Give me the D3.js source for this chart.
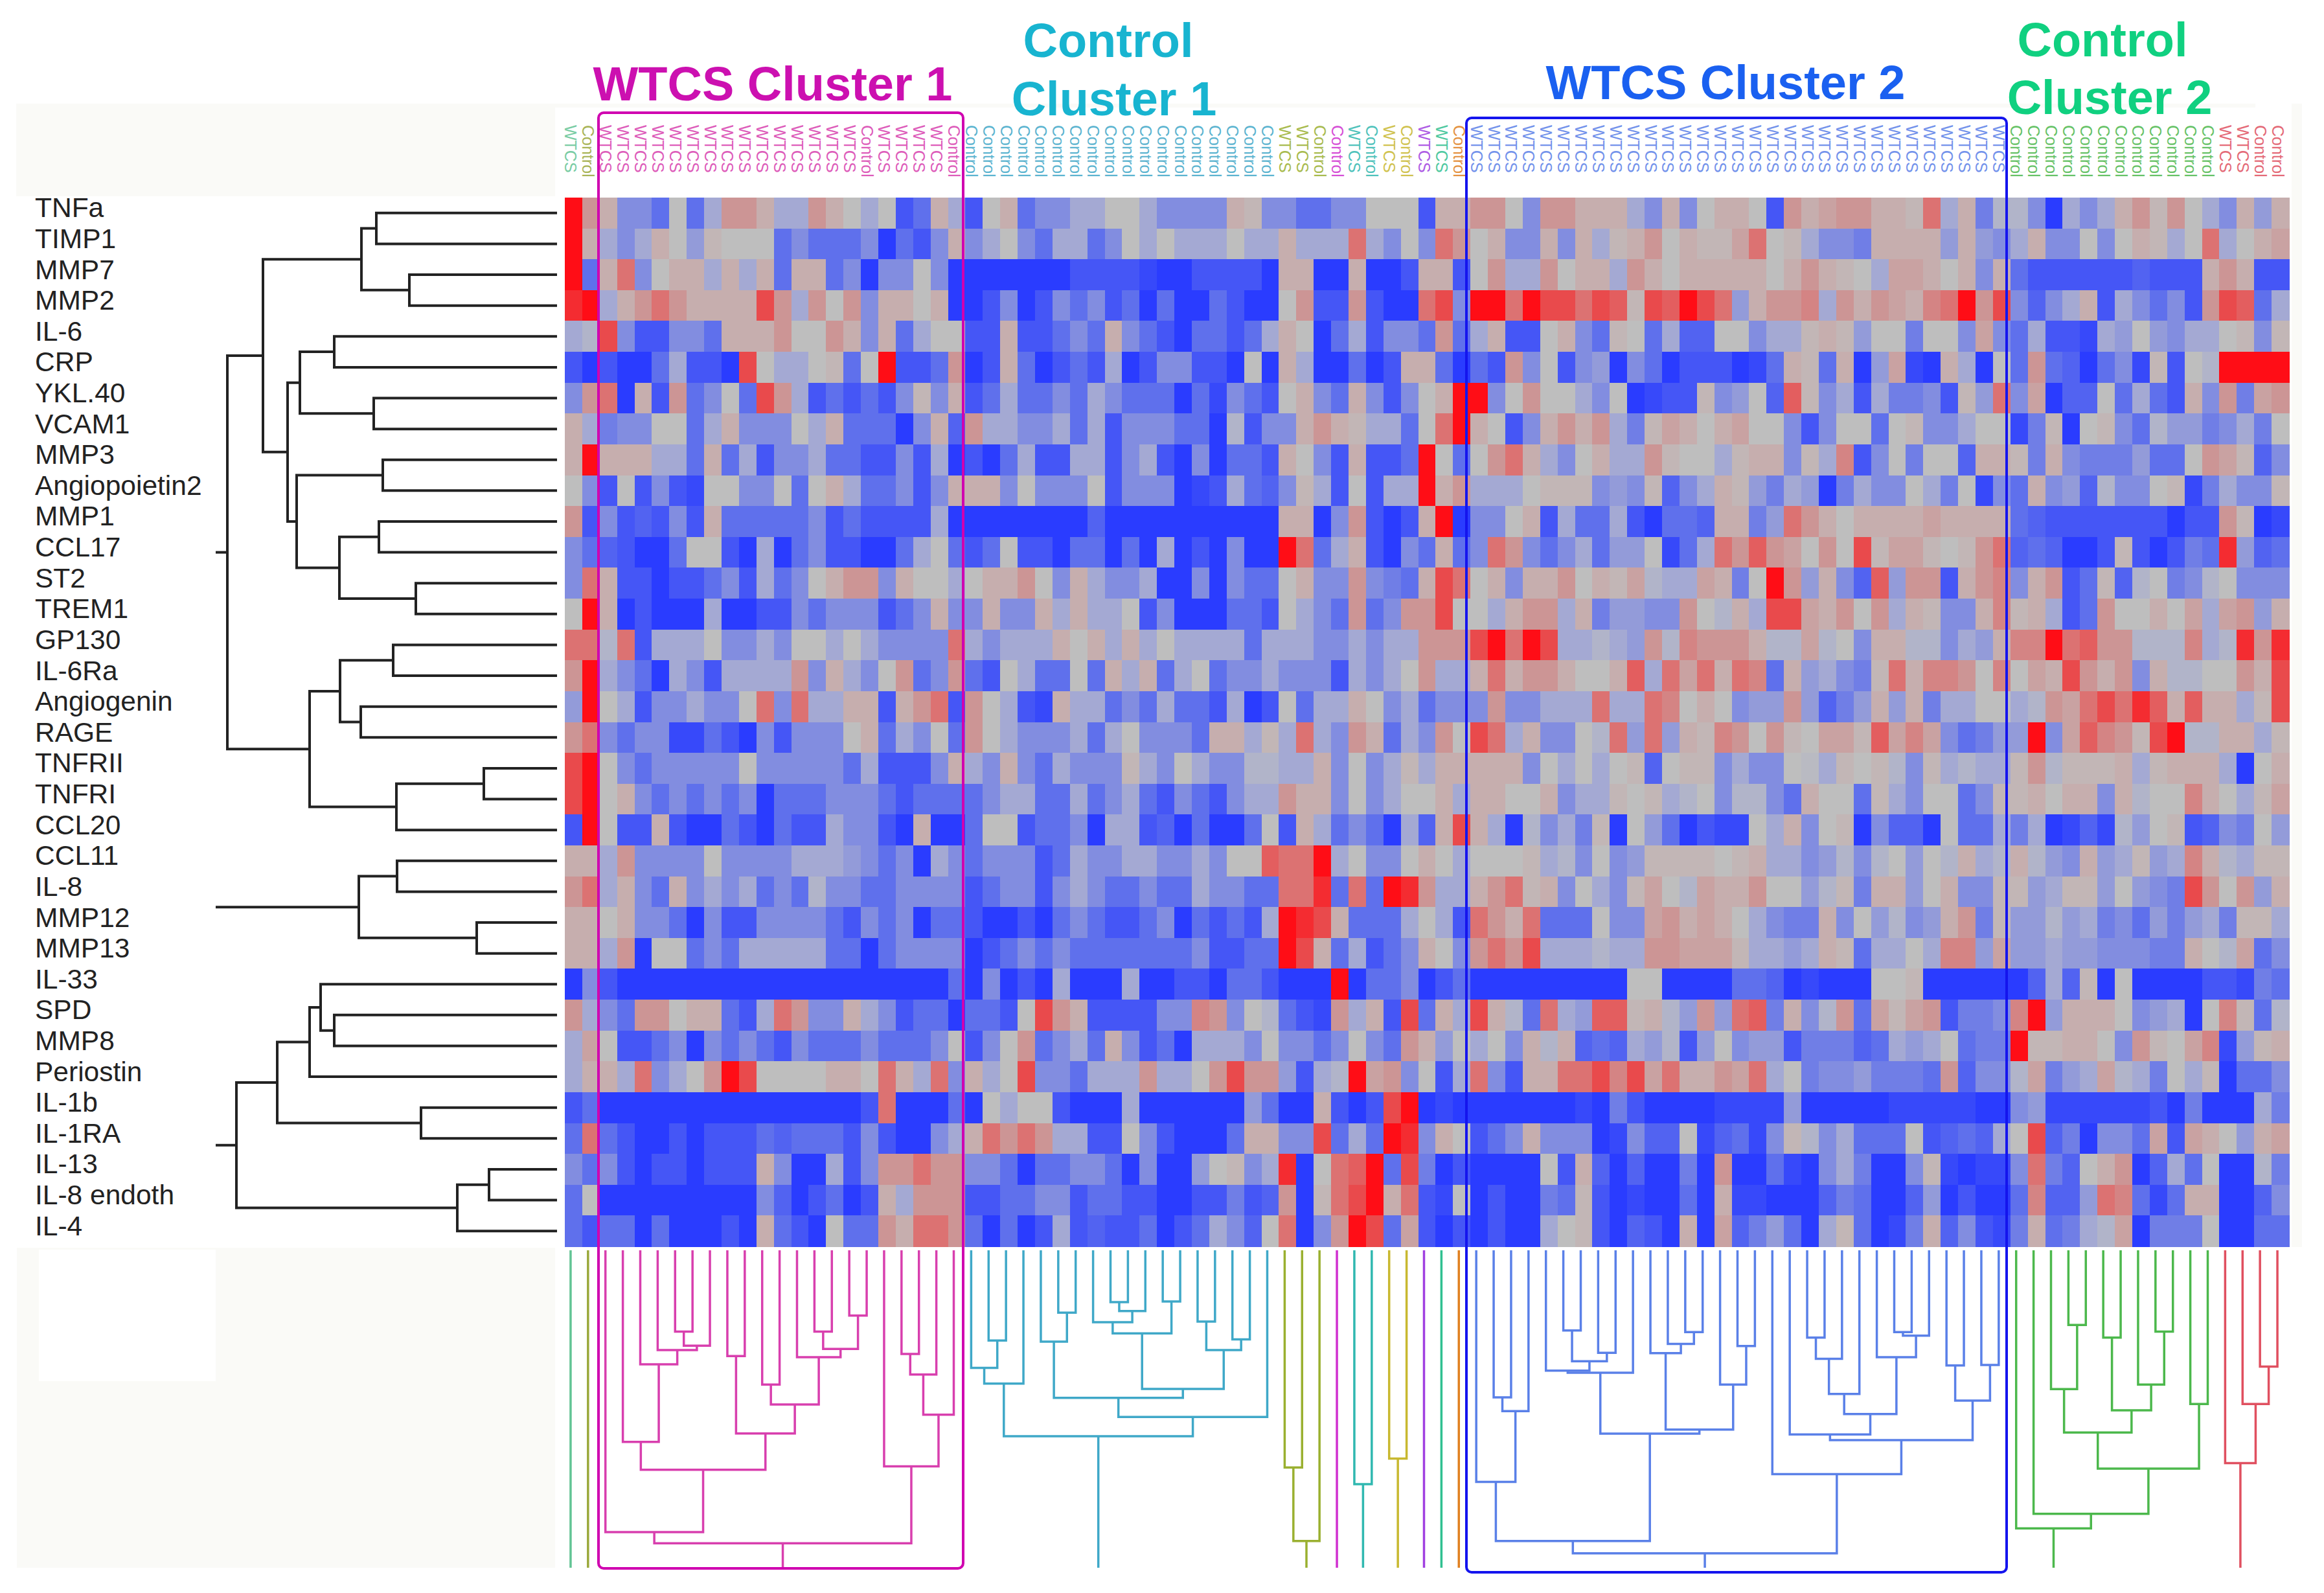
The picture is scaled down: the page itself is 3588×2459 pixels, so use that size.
<!DOCTYPE html>
<html><head><meta charset="utf-8">
<script src="https://cdn.jsdelivr.net/npm/d3@7"></script>
<style>html,body{margin:0;padding:0;background:#fff}svg{display:block}text{font-family:"Liberation Sans",Arial,sans-serif}</style>
</head><body><svg id="c" width="3588" height="2459"></svg>
<script>
const rowLabels=["TNFa","TIMP1","MMP7","MMP2","IL-6","CRP","YKL.40","VCAM1","MMP3","Angiopoietin2","MMP1","CCL17","ST2","TREM1","GP130","IL-6Ra","Angiogenin","RAGE","TNFRII","TNFRI","CCL20","CCL11","IL-8","MMP12","MMP13","IL-33","SPD","MMP8","Periostin","IL-1b","IL-1RA","IL-13","IL-8 endoth","IL-4"];
// columns 0-28
const heatA=[
[5,2,1,-2,-2,-3,0,-3,-1,2,2,1,-1,-1,2,1,0,-1,0,-4,-3,1,-1,-4,0,1,-3,-2,-2],
[5,1,-1,-2,-1,1,0,-1.5,0.5,0,0,0,-3,-2,-3,-3,-3,-2,-5,-3,-4,-2,1,-2,-1,0,-2,-3,-1],
[5,-3,1,3,-2,0,1,1,-1,1,-1,1,-3,1,1,-3,-2,-5,-2,-2,0,-2,-5,-5,-5,-5,-5,-5,-5],
[4.5,5,-1,1,2,3,2,1,1,1,1,4,2,-1,2,0,2,-2,1,1,0,1,-5,-5,-4,-2,-5,-4,-2],
[-1,-0.5,4,-2,-4,-4,-2,-2,-3,1,1,1,2,0,0,2,1,-2,1,-3,-1,0,0,-4,-4,1,-4,-4,-3],
[-4,-5,-4,-5,-5,-3,-1,-4,-4,-5,4,0,-1,-1,0,0.5,-3,0,5,-4,-4,-3,2,-5,-4,1,-3,-5,-4],
[-2,2,3,-5,1,-4,2,-3,-2,0,-3,4,2,-1,-4,-3,-4,-3,-4,-2,0.5,-2,1,-4,-3,-1,-3,-3,-2],
[1,-1,-2.5,-2,-2,0,0,-3,-1,1,-2,-2,-2,0,-1,1,-3,-3,-3,-5,-2,1,-3.5,2,-1,-1,-2,-2,-1],
[1,5,1,1,1,-1,-1,-3,1,-3,-1,-4,-2,-2,-1,-3,-3,-4,-4,-2,-4,-1,-5,-4,-5,-3,-1,-4,-4],
[0,-2,-4,0,-4,-2,-4,-4.5,0,0,-2,-2,0,-3,0,1,-1,-3,-3,-2,-4,-2,1,1,1,-2,0,-2,-2],
[2,-4,-2,-4,-3.5,-4,-2,-4,1,-3,-3,-3,-3,-3,-2,-4,-3,-4,-4,-4,-4,-1,-5,-5,-5,-5,-5,-5,-5],
[-2,-3,-3.5,-4,-5,-5,-3,0,0,-4,-5,-1,-5,-3,-2,-4,-4,-5,-5,-3,-1,0,-3,-4,-3,0,-4,-4,-5],
[-2,3,1,-4,-4,-5,-4,-4,-3,-2,-4,-1,-3,-2,0,1,2,2,-2,1,0,0,-1,0,1,1,2,0,-2],
[0,5,1,-5,-4,-5,-5,-5,-1,-5,-5,-4,-4,-2,-3,-2,-2,-2,-4,-3,-2,1,-2,-2,1,-2,-2,1,-1],
[3,3,-0.5,3,-4,-1,-1,-1,0,-2,-2,-1,-2,0,0,-1,0,-1,-2,-2,-2,-2,3,-1,-2,-1,-1,-1,1],
[2,5,-1,-2,-3,-5,-1,-2,-4,-1,-1,-1,-1,2,-2,1,-1,-2,0,2,-3,-2,2,-3,-4,0,-1,-3,-3],
[-1.5,5,0,-1,-4,-2,-2,-1,-2,-2,0,3,-2,3,-1,-1,1,1,-4,1,2,3,-4,2,0,-1,-4,-4.5,1],
[2,3,-2,-3,-2,-2,-4.5,-4.5,-3,-4,-5,-2,-4,-2,-2,-2,0,1,-3,-1,-2,0,-3,2,0,-1,-2,-2,-2],
[4,5,0,-2,-3,-2,-2,-2,-2,-2,0,-2,-2,-2,-2,-2,-3,-1,-4,-4,-4,-2,1,-1,-2,1,-2,-3,-1],
[4,5,0,1,-2,-3,-2,-3,-2,-3,-2,-5,-3,-3,-3,-2,-2,-2,-3,-4,-3,-3,-3,-3,-2,-1,-1,-3,-3],
[-4,5,0,-4,-4,1,-4,-5,-5,-3,-4,-5,-3,-4,-4,-1,-2,-2,-4,-5,1,-5,-5,-3,0,0,-4,-3,-3],
[1,1,-1,2,-2,-2,-2,-2,0,-2,-2,-2,-2,-1,-1,-1,-1.5,-2,-3,-2,-5,-1,-2,-3,-2,-2,-2,-4,-3],
[2,3,-1,1,-2,-3,1,-2,-1,-2,-1,-3,-2,-3,-0.5,-2,-2,-3,-3,-2,-2,-2,-2,-4,-3,-2,-2,-4,-2],
[1,1,0,1,-2,-2,-3,-5,-2,-4,-4,-2,-2,-2,-2,-3,-4,-2,-3,-2,-5,-3,-3,-4,-5,-5,-4,-5,-3],
[1,1,-1,2,-5,0,0,-3,-2,-3,-1,-1,-1,-1,-1,-3,-3,-5,-3,-2,-2,-2,-2,-5,-4,-3,-2,-3,-2],
[-5,-2,-4,-5,-5,-5,-5,-5,-5,-5,-5,-5,-5,-5,-5,-5,-5,-5,-5,-5,-5,-5,-3,-5,-2,-5,-4,-5,-1],
[2,-1,-2,-3,2,2,0,1,1,-3,-4,-1,3,2,-2,-2,1,-1,-2,-4,-3,-3,-5,-3,-3,-4,0,4,2],
[-1,1.5,0,-4,-4,-3,-2,-5,-2,-3,-2,-3,-4,-2,-3,-3,-3,-2,-3,-3,-3,-2,0,-4,-2,0,2,-3,-2],
[-1,1,1,-1,3,-2,-1,0,2,5,4,0,0,0,0,1,1,0,3,1,-1,3,-2,1,-1,0,4,-2,-2],
[-4,-3,-5,-5,-5,-5,-5,-5,-5,-5,-5,-5,-5,-5,-5,-5,-5,-4,3,-5,-5,-5,-3,-5,0,-1,0,0,-4],
[-3,3,-3,-4,-5,-5,-4,-5,-4,-4,-4,-3,-3.5,-3,-3,-3,-4,-2,-4,-5,-5,-2,-1,1,3,2,3,2,-1],
[-2,-3,-2,-4,-5,-4,-4,-5,-4,-4,-4,1,-2,-5,-5,-1,-4,-2,2,2,3,2,2,-2,-2,-3,-5,-3,-3],
[-3,0,-5,-5,-5,-5,-5,-5,-5,-5,-5,-2,-3.5,-5,-4,-3,-5,-4,1,-1,2,2,2,-4,-4,-3,-3,-2,-2],
[-3,-4,-3,-3,-5,-3,-5,-5,-5,-4,-5,1,-3,-4,-5,0,-3,-3,2,1,3,3,2,-3,-5,-3,-5,-4,-1]
];
// columns 29-58
const heatB=[
[-1,-1,0,0,-1,-2,-2,-2,-2,1,0.5,-2,-2,-3,-3,-2,-2,0,0,0,-4,1,1,2,2,0,-2,2,2,1],
[-1,-3,-2,0,-1,0,-1,-1,-1,0,-1,-1,1,-1,-1,-1,3,-1,-2,0,-2,3,2,0,1,-2,-2,1,-2,1],
[-4,-4,-4,-4,-4.5,-5,-5,-4,-4,-4,-4,-5,1,1,-5,-5,1,-5,-5,-4,1,1,-4,0,2,-1,-1,2,0,1],
[-3,-2,-4,-3,-5,-3,-5,-5,-3,-4,-5,-5,0,2,-4,-4,2,-4,-5,-5,3,4,-2,5,5,3,5,4,4,3],
[-2,-3,1,-2,-3,-4,-5,-3,-3,-4,-3,-1,1,0,-5,-3,-1,-4,-2,-2,-3,2,-3,-1,1,-4,-4,0,1,-2],
[-3,-4,-1,-5,-4,-2,-2,-4,-4,-5,0,-5,1,-1,-5,-5,-3,-5,-4,1,1,-3,-5,-3,-4,2,-2,0,-4,-2],
[-3,-1,-2,-3,-3,-3,-5,-3,-4.5,-2,-3,-4,0,1,-2,-3,1,-2,-4,-2,0,1,5,5,-2,0,2,0,0,-1],
[-3,-1,-4,-2,-2,-2,-3,-3,-5,-0.5,-4,-2,-2,1,2,1,0.5,-1,-1,-3,0,3,5,1,0,-4,-2,1,2,1],
[-1,-1,-4,-2,-1,-4,-5,-2,-5,-3,-3,-4,1,0,-2,-4,1,-4,-4,-3,5,0,-3,0,2,3,1,-1,-2,0],
[-2,0,-4,-2,-2,-2,-5,-4.5,-4,-1,-3,-3.5,-2,0.5,-1,-4,0,-4,-1,-1,5,1,2,-1,-1,-1,0,0.5,0.5,0.5],
[-5,-3.5,-5,-5,-5,-5,-5,-5,-5,-5,-5,-5,1,1,-5,-2,2,-4,-5,-4,1,5,-5,-2,-2,0,1,-4,-1,-3],
[-3,-3,-5,-3,-5,-1,-5,-4,-5,-2,-5,-5,5,3,-3,-1,1,-4,-5,-2,-3,1,-3,-2,3,2,-2,-3,-2,-1],
[1,-1,-2,-2,-1,-5,-5,-2,-5,-2,-3,-3,0,1,-2,-2,2,-2,-2.5,-3,1,4,3,0,1,-2,1,1,2,0],
[1,-1,-1,0,-4,-2,-5,-5,-5,-3,-3,-4,0,-1,-2,-3,2,-3,-2,2,2,4,0,0,-1,1,2,2,-1,1],
[0,1,-1,1,-1,0,-1,-1,-1,-1,-3,-1,-1,-1,-2,-2,-1,-2,-1,-1,2,2,2,4,5,3,5,4,-1,-1],
[0,-3,1,-1,1,-3,-1,0,-3,-2,-2,-1,-2,-2,-2,-4,-1,-2,-1,0,2,-1,-1,1,3,1,2,2,1,0],
[-1,-1,-3,-2,-3,-1,-3,-3,-4,-1,-5,-4,0,-3,-1,-1,1,0,-2,-1,-3,-2,-2,-2,2,-2,-2,-1,-1,-1],
[-1,-3,-1,0,-2,-2,-2,-3,1,1,-1,0.5,-1,3,-1,-2,2,1,-3,-1,-2,2,0,4,3,-1,1,-2,-2,0],
[-2,-2,-2,0.5,-1,-2,0,-1,-2,-2,-0.5,-0.5,-1,-1,1,-2,0,-2,-1,0.5,-1,1,1,1,1,1,-2,0,-1,0],
[-1,-3,-2,-1,-3,-4,-2,-3,-4,-2,-1,-1,2,1,1,-2,0,-2,-1,0,0,1,-1,1,1,0,0,1,-2,-1],
[-2,-5,-1,-1,-4,-3.5,-5,-3,-5,-5,-3,0,-4,1,-1,-3,-2,-3,-5,-1,-3.5,1,4,1,-1,-5,-0.5,-2,-1,-2.5],
[-1,-2,-2,-1,-1,-2,-2,-1,-2,0,0,3.5,3,3,5,-1,0,-2,-2,0,1,0,-1,0,0,0,0.5,-1,-0.5,-2],
[-1,-2,-3,-3,-2,-3,-3,-1,-2,-2,-3,-3,3,3,4.5,-3,3,-3,5,4.5,2,-1,-1,1,2,3,0.5,1,-2,0],
[-2,-3,-4,-4,-3,-2,-5,-3,-4,-3,-4,-1,5,4.5,4,1,-3,-3,-3,-1,0,-1,-4,3,2,1,3,-3,-3,-3],
[-3,-3,-3,-3,-3,-3,-3,-2,-4,-4,-3,-3,5,4,1,-3,-1,-4,-3,-2,1,0,-2,2,3,2,4,-1,-1,-1],
[-5,-5,-5,-1,-5,-5,-4,-4,-5,-3,-3,-4,-5,-5,-5,5,-5,-3,-3,-2,-5,-4,-3,-5,-5,-5,-5,-5,-5,-5],
[1,-4,-4,-4,-4,-2,-2,2.5,2,-2,0,-0.5,-3,-4,-4.5,2,-1,1,-4,4,-3,1,-1,4,1,-0.5,-3,3,-1,-1.5],
[-1,-3,1,-2,-4,-3,-5,-1,-1,-1,-2,0,-2,-2,-3,-2,0,-2,-3,2,1,-1.5,0,-1,0,-2,1,-0.5,1,-3.5],
[-3,-1,-1,-1,2,-1,-1,0,2,4,2,2,-1.5,-4,-1,-0.5,5,1.5,2,-2,0,-4,-1,3,-2,-4,1,1,3,3],
[-5,-5,-5,-1,-5,-5,-5,-5,-5,-5,-1.5,-3,-5,-5,1,-4,-5,-4,4,5,-5,-4.5,-5,-5,-5,-5,-5,-5,-5,-4.5],
[-1,-4,-4,0,-2,-4,-5,-5,-5,-3,1,1,-2,-2,4,-3,-1,-3,5,4.5,-2,1,0,-4,-3,-2,1,-2,-2,-2],
[-2,-2,-3,-5,-2,-5,-5,-1.5,0,0.5,-2,-1,4.5,-5,0,3,3.5,5,-3,4,-2.5,-5,-4,-5,-5,-5,-5,0,-4,1],
[-4,-3,-3,-4,-4,-5,-5,-4,-4,-2.5,-4,-3.5,2,-5,0.5,3,4,5,1,3,-4,-4.5,0,-5,-4,-5,-5,-2.5,-3,0.5],
[-4,-3.5,-4,-4,-3,-5,-4,-3,-1,-2,-3.5,0,3,-5,-2,2,5,4,-3,1.5,-4,-5,-4,-5,-4,-5,-5,-1,0,0.5]
];
// columns 59-98
const heatC=[
[1,1,-1,-2,1,-2,0,1,1,0,-4,2,1,1.5,2,2,1,1,0.5,3,-1,1,-2.5,-0.5,-0.5,-2,-5,-1,-2,-1,1,2,0.5,2,0,-1,-2,1,-1.5,1],
[-1,0.5,1,2,0,1,0.5,0.5,1.5,3,0,0.5,-1,-2,-2,-2.5,1,1,1,1,-1.5,1,-1.5,-2,-1,1,-2,-2,0,-2,0,1,0.5,-1,0,3,-1,0,1,1.5],
[1,-1,2,1,0,1,1,1,1,1,0,1,2,1,0.5,0,-1,1.5,1.5,1,0,1,-2,1,-3,-4,-4,-4,-4,-4,-4,-3.5,-4,-4,-4,1,2,1,-4,-4],
[4,3.5,0.5,4,3.5,5,4,3,-1.5,1,2,2,2.5,-1,2,1,2,1.5,1,2.5,3,5,2,4,-2,-3.5,-2,-1,1,-4,-1,-2,-3,-2,-4,2,4,3.5,-3,-1],
[-3,0.5,0,-3,-1,-3.5,-3.5,0,0,-2,-1,-1,0.5,1,0.5,-1.5,0,0,-2.5,0,0,-2,1.5,-2,-3,-1,-4,-4,-4.5,-1,-1.5,0,-1.5,-2,-1,-1,0,0.5,-2,0.5],
[-1.5,-5,-2,-3,-5,-4,-4,-4,-5,-4.5,-3,1,0.5,-3,1,-5,-1.5,1.5,-4.5,-5,1,-1,-5,0,-3,2,-3,-3.5,-5,-3,-2,-4.5,0.5,-4,0,-0.5,5,5,5,5],
[-2,0,-5,-4.5,-4,-4,0.5,-2,-1.5,0,-3.5,3.5,0.5,-2,-1,-4,-1,-2.5,-2.5,-2,-4,0.5,-1.5,3,-2,1.5,-5,-3.5,-3.5,0,-3,-1,-3,-4,1,-2,2,-2.5,1.5,2],
[2,-1,-2.5,0.5,1.5,1,0,1,1.5,0,0,-2,-4,-2,0,0,-3,0,0.5,-2,-2,-1,0,0,-4.5,-2.5,0.5,-5,0,0.5,-2,-3,-0.5,-1.5,-1.5,-2.5,-2,-1,-2.5,0],
[1,-1,-1,2,0.5,0,0,-1,0.5,1,1,-2,0.5,-1,2.5,-4,-2,0,-2.5,0,0,-3.5,1,1,0.5,-2.5,1,-2,-2.5,-2.5,-2.5,-1.5,-3,-3,0,2,1.5,0.5,-3.5,-2],
[-2,-1.5,-2,0.5,-3.5,-2,-1,1,0.5,-1.5,-2.5,-1,-1.5,-5,-2.5,-1,-2,-2,0,-1,-2.5,0,-4.5,-2,-3,1,-2,-1.5,-3.5,-0.5,-2,-2,0,0.5,-4.5,-2.5,-1,-2,-2,0.5],
[-3,-1,-4,-5,-3,-3,-3.5,1,1,-2.5,-1.5,3,2,1,0,1,1,1,1,1.5,1,1,1,1,-3,-3.5,-4,-4,-4,-4,-4,-4,-4,-5,-4,-4,2,0.5,-5,-4.5],
[-3,-1.5,-1.5,0,-4.5,-3,-1,3,2,3.5,2,1.5,0,2,0,4,0.5,1.5,1.5,0.5,0,0.5,2,3,-3.5,-3,-3.5,-5,-5,-4,0.5,-4,-5,-4,-2.5,-3,4.5,-1.5,-3.5,-3],
[1,0.5,1.5,-0.5,-1,-1,1.5,1,-2.5,0,5,2,-1.5,1,-2,-3.5,3.5,-1.5,2,2,-4,1,2,2.5,-2,1,2,-4,-3,0.5,-3.5,-0.5,0,-2.5,-2,-0.5,0,-2,-2,-2],
[-2.5,-1.5,-1.5,-2,-2,2,0,-0.5,1,-1,4,4,1.5,1,2,0,2,-1,1,0.5,-2,-2,1,2.5,0.5,1,-1,-4,-3,2,0,0,1,0,1.5,-1,1.5,2,-1.5,1],
[-0.5,-1,-1.5,2,-0.5,2.5,2,2,2,1,-0.5,-0.5,1.5,-0.5,0,-2,1,1,-0.5,-0.5,-2,-1,-1.5,1,2.5,2.5,5,3,3.5,2,2,-0.5,-0.5,-0.5,2.5,-1,-0.5,4.5,2,4.5],
[0,1,3.5,-1,3,1.5,3,1,3,2.5,-3,1,-1.5,-1,-2,-2.5,0.5,3,1,2.5,2.5,2,0,2.5,0,1.5,1,4,2,1,2,-2,1,-0.5,-0.5,0,0,2,1,4],
[3,-1,-1,3,2.5,0,1,0,-2,-1.5,-1.5,2,-1.5,-3.5,-2.5,-1.5,1,-1.5,1,-2.5,-1,-1,0,0,-1,-0.5,2,1.5,3,4,3,4.5,3.5,1,3.5,1,1,-1,0.5,4],
[-0.5,3,-1.5,3,-1.5,1,0.5,2.5,2,0,2,0.5,0,1.5,1.5,0.5,3.5,1.5,2.5,1.5,-2,-3,-2.5,-1.5,-1.5,5,-2,1.5,3.5,2.5,2,0.5,4,5,-0.5,-0.5,1,1,-1,0.5],
[-1,0,0.5,-3.5,0,0.5,0.5,-2,-1,-2,-2,0,-0.2,-1,0.5,0,0.5,-0.5,-2,0.5,-1,-0.5,-1,-1,0.5,2,-0.5,0.5,0.5,0.5,1,-1,0.5,1,1,1,-1,-5,0,1],
[-1,0.5,0,0.5,-1,-0.5,0,-2,-0.5,-0.5,-2,-3,1,0,0,-3,0.5,-1,-2,0,0,-3,-2,0.5,0.5,1,0,1,1,-2,1,-0.5,0,0,2.5,1,0,-1,0.5,1.5],
[0.5,-5,0,-1.5,-3,-5,-4,-4.5,-4.5,0,-1,1,-2,0,0.5,-5,-2,-3.5,-3.5,-5,0,-3,-3,-1,-2.5,-1,-5,-4.5,-3.5,-4.5,-0.5,-1.5,0,0.5,-4,-3.5,-2,-2.5,0,-1.5],
[0,-2,-1.5,0.5,0.5,0.5,0.5,0,0.5,1,-1,-1,-2,-1.5,-0.5,-2,-0.5,0,-1.5,0,-0.5,1,-1,-0.5,1,-0.5,-1.5,-2,1,-1.5,-1,0.5,-1.5,-1,2.5,1,-0.5,-1,0.5,0.5],
[-1,-2,0.5,1.5,0,-0.5,1.5,1,1,2,0,0,-1.5,-0.5,0.5,-2.5,1,1,-1.5,0,1,-2,-2,0.5,0.5,-1.5,-1,0.5,0.5,-1.5,0,-1.5,-2,-2.5,4,2,0,2,-1.5,1],
[0,-2,-2,1.5,2,1,1.5,1,0,-1,-2,-2.5,-2.5,1,-2,0,-1.5,-0.5,-2,-1.5,1,2,-2.5,0.5,-1.5,-1.5,-0.5,-1.5,-1,-2.5,-2,-3,-1.5,-2.5,-1.5,-1,-2.5,0.5,0.5,-1],
[-0.5,-1,-1,2,2,1.5,1.5,1.5,0.5,-1,-1,-1.5,-1,1,0.5,-3,-1,-1,0,-1,2.5,2.5,-1.5,1.5,-1.5,-1.5,-1,-1.5,-1.5,-2,-2,-2,-2.5,-2.5,1,0,-0.5,1.5,-3,-2],
[-5,-5,0,0,-5,-5,-5,-5,-3,-3,-3.5,-5,-4.5,-5,-5,-5,0,0,0.5,-5,-5,-5,-5,-5,-5,-3.5,-1,-3.5,0.5,-5,0,-5,-5,-5,-5,-4,-4,-4.5,-2.5,-3],
[3.5,3.5,0.5,1,-0.5,-1.5,2,-1.5,3,3.5,-2.5,1,-2,-0.5,2,-3,1.5,0.5,1.5,2,-4,-2.5,-2.5,-2,2.5,5,-1.5,1,1,1,0,-2,-1.5,-1,-5,0,2.5,0.5,-3,-0.5],
[-3,-3.5,-1,-1.5,-0.5,-4,-1.5,0,-2,-1.5,-1.5,-4,-2.5,-2.5,-2.5,-3.5,-3,-1,-1.5,-1,0,-3,-2.5,-2.5,5,0.5,0.5,1,1,0,-2,2,0.5,0,1.5,2.5,-4.5,-1.5,0.5,1],
[4,2.5,4,1.5,3,1,1,2,1.5,3,-1,0,-2.5,-2,-2,-1.5,-2.5,-2.5,-2.5,-3,2,-3.5,-2,-2,-0.5,1.5,-2.5,-1.5,-1,1.5,-0.5,-1,-2.5,0,-1,0.5,-5,-3,-3,-2],
[-5,-2.5,-4,-5,-5,-5,-5,-4.5,-4.5,-4.5,-4.5,-1.5,-5,-5,-5,-5,-5,-4.5,-4.5,-4.5,-4.5,-4.5,-5,-5,-2,-1.5,-4.5,-4.5,-4.5,-4.5,-4.5,-4.5,-4,-5,-2.5,-5,-5,-5,-1,-2.5],
[-5,-4.5,-2,-3.5,-3.5,0,-4.5,-3.5,-3,-4.5,-2,0.5,-0.5,-2,-1,-3,-3,-3,0,-4,-3.5,-3,-3.5,-1,0,4,-3.5,-2.5,-5,-2,-2,-3,1.5,-4,1.5,1,0,-1.5,1,1.5],
[-3.5,-5,-3.5,-5,-5,-2.5,-5,2,-5,-5,-3,-4.5,-5,-2,-1,-2.5,-5,-5,-2,0.5,-4.5,-5,-4.5,-4.5,-2,3,-2.5,-3.5,0,1,2,-5,-3.5,-1,-3,0,-5,-5,-0.5,-2.5],
[-4,-5,-4.5,-5,-5,-3,-5,1,-4.5,-4.5,-5,-5,-5,-3.5,-2.5,-3,-5,-5,-3.5,-1.5,-5,-4,-5,-5,-3,2.5,-3.5,-3.5,-1.5,3,2.5,-3,-4.5,-3,1,1,-5,-5,-3.5,-2],
[-4,-5,-3.5,-4,-5,1,-5,1.5,-3.5,-2.5,-1.5,-3,-5,-1,0.5,-3,-5,-4.5,-2.5,1,-3.5,-2,-4,-4.5,-2.5,1,-3,-2.5,-1,-0.5,1.5,-5,-2.5,-2.5,-2.5,0,-5,-5,-3,-3]
];
const colorStops=[-5,-3,-1,0,1,2,3,4,5];
const colorValues=["#2a3cff","#5f70ec","#a4a9d3","#bebebe","#c6aeae","#cc9595","#dc7272","#e94a4c","#ff0d16"];
const labelRuns=[["WTCS",1],["Control",1],["WTCS",15],["Control",1],["WTCS",4],["Control",1],["Control",18],["WTCS",2],["Control",2],["WTCS",1],["Control",1],["WTCS",1],["Control",1],["WTCS",2],["Control",1],["WTCS",31],["Control",12],["WTCS",2],["Control",2]];
const groupSizes=[1,1,21,18,3,1,2,2,1,1,1,31,12,4];
const groupColors=["#62c494","#9aa83a","#d83fae","#3fa8c8","#9ab030","#d030d0","#30b8b0","#c8b830","#a040e0","#30c090","#e08020","#5a80e8","#4cb84c","#e05060"];
// row dendrogram: [height, childA, childB], leaves are row indices
const rowTrees=[
[509,[454,[302,[279,0,1],[228,2,3]],[416,[397,[344,4,5],[283,6,7]],[402,[269,8,9],[336,[275,10,11],[218,12,13]]]]],[382,[335,[253,14,15],[303,16,17]],[248,[113,18,19],20]]],
[306,[247,21,22],[124,23,24]],
[495,[432,[382,[365,25,[344,26,27]],28],[210,29,30]],[154,[105,31,32],33]]
];
// column dendrogram: [height, childA, childB], leaves are column indices
const colTrees=[0,1,
[1315,[1265,2,[985,[860,3,[512,4,[448,5,[428,[365,6,7],8]]]],[822,[475,9,10],[692,[603,11,12],[480,13,[443,[365,14,15],[293,16,17]]]]]]],[970,18,[738,[558,[465,19,20],21],22]]],
[835,[598,[528,23,[405,24,25]],26],[748,[662,[410,27,[280,28,29]],[622,[373,[323,30,[273,[233,31,32],33]],[230,34,35]],[448,[320,36,37],[400,38,39]]]],40]],
[1305,[975,41,42],43],44,[1050,45,46],[935,47,48],49,50,51,
[1360,[1305,[1040,52,[722,[660,53,54],55]],[823,[550,[540,56,[498,[360,57,58],[460,59,60]]],61],[805,[462,62,[420,63,[367,64,65]]],[603,66,[430,67,68]]]]],[1005,69,[852,[827,70,[735,[645,[487,[392,71,72],73],74],[480,75,[383,[367,76,77],78]]]],[675,[517,79,80],[515,81,82]]]]],
[1248,83,[1183,84,[980,[818,[623,85,[335,86,87]],[718,[392,88,89],[603,90,[365,91,92]]]],[690,93,94]]]],
[955,95,[690,96,[522,97,98]]]
];
const titles=[["WTCS Cluster 1","#cc10b0",1193,155],["Control","#18b4d0",1711,88],["Cluster 1","#18b4d0",1720,178],["WTCS Cluster 2","#1a60f0",2664,153],["Control","#10d080",3246,87],["Cluster 2","#10d080",3257,176]];
const boxes=[[2,23,"#d000b0",174,2421,924,1487],[52,83,"#1414ee",182,2427,2264,3098]];

const svg=d3.select("#c");
const colLabels=labelRuns.flatMap(([t,n])=>d3.range(n).map(()=>t));
const colIdx=d3.range(colLabels.length), rowIdx=d3.range(rowLabels.length);
const x=d3.scaleBand().domain(colIdx).range([872,3534]);
const y=d3.scaleBand().domain(rowIdx).range([305,1924]);
const color=d3.scaleLinear().domain(colorStops).range(colorValues);
const leafShift=-4.5;
const cx=i=>x(i)+x.bandwidth()/2, cy=i=>y(i)+y.bandwidth()/2;
const rowH=d3.scaleLinear().domain([0,527]).range([860,333]);
const colH=d3.scaleLinear().domain([0,1425]).range([1930,2420]);
const groupOf=[];groupSizes.forEach((n,g)=>{for(let k=0;k<n;k++)groupOf.push(g)});

// faint panels
const panel="#fafaf7";
[[25,160,832,143],[26,1926,831,494],[857,160,2625,6],[3538,160,16,1765]].forEach(([a,b,w,h])=>svg.append("rect").attr("x",a).attr("y",b).attr("width",w).attr("height",h).attr("fill",panel));
svg.append("rect").attr("x",60).attr("y",1929).attr("width",273).attr("height",203).attr("fill","#fff");

// heatmap
const cells=rowIdx.flatMap(r=>heatA[r].concat(heatB[r],heatC[r]).map((v,c)=>({r,c,v})));
svg.append("g").attr("shape-rendering","crispEdges").selectAll("rect").data(cells).join("rect")
 .attr("x",d=>x(d.c)).attr("y",d=>y(d.r)).attr("width",x.bandwidth()+.5).attr("height",y.bandwidth()+.5).attr("fill",d=>color(d.v));

// row labels
svg.append("g").selectAll("text").data(rowLabels).join("text").text(d=>d)
 .attr("x",54).attr("y",(d,i)=>cy(i)-8).attr("dominant-baseline","central").attr("font-size",42.5).attr("fill","#222");

// column labels
svg.append("g").selectAll("text").data(colLabels).join("text").text(d=>d)
 .attr("transform",(d,i)=>`translate(${cx(i)-4},193) rotate(90)`).attr("dominant-baseline","central")
 .attr("font-size",25).attr("fill",(d,i)=>groupColors[groupOf[i]]).attr("opacity",.85);

// dendrograms
function rowNode(n,g){
 if(typeof n==="number")return{p:cy(n),h:0};
 const a=rowNode(n[1],g),b=rowNode(n[2],g);
 const p=d3.path();p.moveTo(rowH(a.h),a.p);p.lineTo(rowH(n[0]),a.p);p.lineTo(rowH(n[0]),b.p);p.lineTo(rowH(b.h),b.p);
 g.append("path").attr("d",p.toString());
 return{p:(a.p+b.p)/2,h:n[0]};
}
const rg=svg.append("g").attr("fill","none").attr("stroke","#222").attr("stroke-width",4);
rowTrees.forEach(t=>{const r=rowNode(t,rg);rg.append("path").attr("d",`M${rowH(r.h)},${r.p}H${rowH(527)}`)});

function firstLeaf(n){return typeof n==="number"?n:firstLeaf(n[1])}
function colNode(n,g){
 if(typeof n==="number")return{p:cx(n)+leafShift,h:0};
 const a=colNode(n[1],g),b=colNode(n[2],g);
 const p=d3.path();p.moveTo(a.p,colH(a.h));p.lineTo(a.p,colH(n[0]));p.lineTo(b.p,colH(n[0]));p.lineTo(b.p,colH(b.h));
 g.append("path").attr("d",p.toString());
 return{p:(a.p+b.p)/2,h:n[0]};
}
const cg=svg.append("g").attr("fill","none").attr("stroke-width",3.5);
colTrees.forEach(t=>{
 const g=cg.append("g").attr("stroke",groupColors[groupOf[firstLeaf(t)]]);
 const r=colNode(t,g);
 g.append("path").attr("d",`M${r.p},${colH(r.h)}V${colH(1425)}`);
});

// cluster boxes
boxes.forEach(([a,b,c,t,bt,l,rr])=>svg.append("rect").attr("x",l).attr("y",t).attr("width",rr-l).attr("height",bt-t).attr("rx",8).attr("fill","none").attr("stroke",c).attr("stroke-width",4));

// titles
svg.append("g").selectAll("text").data(titles).join("text").text(d=>d[0])
 .attr("x",d=>d[2]).attr("y",d=>d[3]).attr("text-anchor","middle").attr("font-size",74).attr("font-weight","bold").attr("fill",d=>d[1]);
</script></body></html>
